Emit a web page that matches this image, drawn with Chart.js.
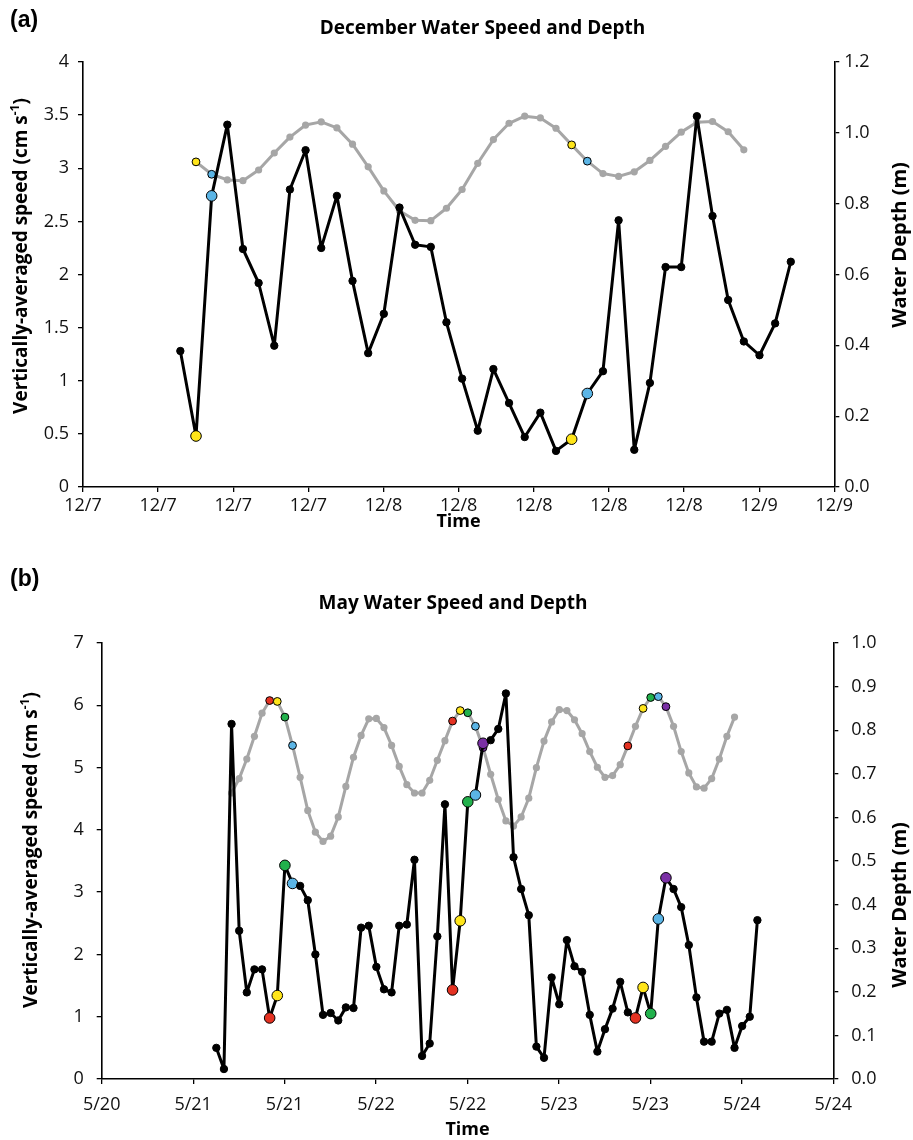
<!DOCTYPE html>
<html><head><meta charset="utf-8">
<script src="https://cdn.jsdelivr.net/npm/chart.js@4.4.0/dist/chart.umd.min.js"></script>
<style>
html,body{margin:0;padding:0;background:#fff;}
#wrap{position:relative;width:913px;height:1140px;background:#fff;}
#ca{position:absolute;left:0;top:0;width:913px;height:560px;}
#cb{position:absolute;left:0;top:560px;width:913px;height:580px;}
</style></head><body>
<div id="wrap"><canvas id="ca" width="913" height="560"></canvas><canvas id="cb" width="913" height="580"></canvas></div>
<script>
// ---------- December (panel a) ----------
const decHours = [0,1,2,3,4,5,6,7,8,9,10,11,12,13,14,15,16,17,18,19,20,21,22,23,24,25,26,27,28,29,30,31,32,33,34,35,36,37,38,39];
const decSpeed = [1.28,0.48,2.74,3.41,2.24,1.92,1.33,2.80,3.17,2.25,2.74,1.94,1.26,1.63,2.63,2.28,2.26,1.55,1.02,0.53,1.11,0.79,0.47,0.70,0.34,0.45,0.88,1.09,2.51,0.35,0.98,2.07,2.07,3.49,2.55,1.76,1.37,1.24,1.54,2.12];
const decDepth = [null,0.918,0.883,0.867,0.865,0.895,0.943,0.988,1.022,1.031,1.014,0.968,0.904,0.836,0.780,0.753,0.752,0.787,0.840,0.914,0.981,1.027,1.047,1.042,1.013,0.966,0.920,0.885,0.877,0.890,0.922,0.962,1.002,1.030,1.032,1.003,0.952,null,null,null];
const decTickLabels = ['12/7','12/7','12/7','12/7','12/8','12/8','12/8','12/8','12/8','12/9','12/9'];
const decYellowIdx = [1,25];
const decBlueIdx = [2,26];

// ---------- May (panel b) ----------
const mayHours = [0,1,2,3,4,5,6,7,8,9,10,11,12,13,14,15,16,17,18,19,20,21,22,23,24,25,26,27,28,29,30,31,32,33,34,35,36,37,38,39,40,41,42,43,44,45,46,47,48,49,50,51,52,53,54,55,56,57,58,59,60,61,62,63,64,65,66,67,68,69,70,71];
const maySpeed = [0.50,0.16,5.70,2.38,1.39,1.76,1.76,0.98,1.34,3.43,3.14,3.10,2.87,2.00,1.03,1.06,0.94,1.15,1.14,2.43,2.46,1.80,1.44,1.39,2.46,2.48,3.52,0.37,0.57,2.29,4.41,1.43,2.54,4.45,4.56,5.39,5.44,5.62,6.19,3.56,3.05,2.63,0.52,0.34,1.63,1.20,2.23,1.81,1.72,1.03,0.44,0.80,1.13,1.56,1.07,0.98,1.47,1.05,2.57,3.23,3.05,2.76,2.15,1.31,0.60,0.60,1.05,1.11,0.50,0.85,1.00,2.55];
const mayDepth = [null,null,0.656,0.689,0.734,0.786,0.839,0.868,0.866,0.830,0.765,0.692,0.616,0.566,0.545,0.557,0.601,0.671,0.738,0.788,0.826,0.827,0.806,0.765,0.717,0.675,0.656,0.656,0.685,0.731,0.776,0.821,0.845,0.840,0.809,0.760,0.699,0.641,0.592,0.580,0.601,0.644,0.714,0.775,0.819,0.847,0.845,0.824,0.792,0.751,0.715,0.692,0.696,0.721,0.764,0.809,0.850,0.875,0.877,0.854,0.809,0.751,0.702,0.670,0.667,0.689,0.734,0.786,0.830,null,null,null];
const mayTickLabels = ['5/20','5/21','5/21','5/22','5/22','5/23','5/23','5/24','5/24'];
const maySpeedRedIdx = [7,31,55], maySpeedYellowIdx = [8,32,56], maySpeedGreenIdx = [9,33,57], maySpeedBlueIdx = [10,34,58], maySpeedPurpleIdx = [35,59];
const mayDepthRedIdx = [7,31,54], mayDepthYellowIdx = [8,32,56], mayDepthGreenIdx = [9,33,57], mayDepthBlueIdx = [10,34,58], mayDepthPurpleIdx = [35,59];

// ---------- styling ----------
const COL = {yellow:'#FFE51A', blue:'#5BB5E6', red:'#E43222', green:'#22B14C', purple:'#7A2FA5'};
const GREY = '#A6A6A6';
const FONT = '"Open Sans", sans-serif';

function drawRot(ctx, parts, cx, cy, size) {
  ctx.save();
  ctx.translate(cx, cy); ctx.rotate(-Math.PI/2);
  const base = 'bold ' + size + 'px ' + FONT;
  const sup = 'bold ' + Math.round(size*0.62) + 'px ' + FONT;
  let w = 0;
  parts.forEach(p => { ctx.font = p.sup ? sup : base; p.w = ctx.measureText(p.t).width; w += p.w; });
  let x = -w/2;
  ctx.textAlign = 'left'; ctx.textBaseline = 'middle'; ctx.fillStyle = '#000';
  parts.forEach(p => { ctx.font = p.sup ? sup : base; ctx.fillText(p.t, x, p.sup ? -size*0.33 : 0); x += p.w; });
  ctx.restore();
}

const panelText = {
  id: 'panelText',
  afterDraw(chart, args, o) {
    const ctx = chart.ctx;
    ctx.save();
    ctx.fillStyle = '#000';
    ctx.textBaseline = 'middle';
    ctx.textAlign = 'left';
    ctx.font = 'bold 23px "Liberation Sans", Arial, sans-serif';
    ctx.fillText(o.letter, o.letterX, o.letterY);
    ctx.textAlign = 'center';
    ctx.font = 'bold ' + o.titleSize + 'px ' + FONT;
    ctx.fillText(o.title, o.titleX, o.titleY);
    ctx.font = 'bold 18px ' + FONT;
    ctx.fillText(o.xTitle, o.xTitleX, o.xTitleY);
    ctx.restore();
    drawRot(ctx, [{t:'Vertically-averaged speed (cm s'},{t:'-1',sup:true},{t:')'}], o.yTitleX, o.yTitleY, 19);
    drawRot(ctx, [{t:'Water Depth (m)'}], o.y2TitleX, o.y2TitleY, 20);
  }
};

function buildChart(id, c) {
  const speedPts = c.hours.map((h,i)=>({x:h, y:c.speed[i]}));
  const depthPts = c.hours.map((h,i)=>({x:h, y:c.depth[i]}));
  const sBg = c.speed.map(()=>'#000'), sR = c.speed.map(()=>3.7);
  Object.keys(c.speedMarks).forEach(k => c.speedMarks[k].forEach(i => { sBg[i] = COL[k]; sR[i] = 5.3; }));
  const dBg = c.depth.map(()=>GREY), dBd = c.depth.map(()=>GREY), dBw = c.depth.map(()=>0), dR = c.depth.map(()=>3.6);
  Object.keys(c.depthMarks).forEach(k => c.depthMarks[k].forEach(i => { dBg[i] = COL[k]; dBd[i] = '#000'; dBw[i] = 1; dR[i] = 3.9; }));
  const tickVals = c.tickLabels.map((_,k)=> c.xMin + k*c.xStep);
  const axisCommon = {
    grid: {display:true, drawOnChartArea:false, drawTicks:true, tickLength:5, color:'#000', lineWidth:1.3},
    border: {display:true, color:'#000', width:1.6}
  };
  return new Chart(document.getElementById(id), {
    type: 'line',
    data: { datasets: [
      { label:'Speed', data: speedPts, yAxisID:'y', order:0, borderColor:'#000', borderWidth:3, tension:0,
        borderJoinStyle:'round', borderCapStyle:'round',
        pointRadius:sR, pointBackgroundColor:sBg, pointBorderColor:'#000', pointBorderWidth:1, spanGaps:false },
      { label:'Depth', data: depthPts, yAxisID:'y2', order:1, borderColor:GREY, borderWidth:3, tension:0,
        borderJoinStyle:'round', borderCapStyle:'round',
        pointRadius:dR, pointBackgroundColor:dBg, pointBorderColor:dBd, pointBorderWidth:dBw, spanGaps:false }
    ]},
    options: {
      responsive:false, animation:false, devicePixelRatio:1,
      layout: { padding: {top:c.padTop, left:0, right:0, bottom:0} },
      plugins: { legend:{display:false}, tooltip:{enabled:false}, panelText: c.text },
      scales: {
        x: Object.assign({}, axisCommon, {
          type:'linear', min:c.xMin, max:c.xMax,
          afterBuildTicks: s => { s.ticks = tickVals.map(v=>({value:v})); },
          afterFit: s => { s.height = c.xH; },
          ticks: { autoSkip:false, maxRotation:0, padding:c.xPad, color:'#111', font:{family:FONT, size:18},
                   callback: (v, i) => c.tickLabels[i] }
        }),
        y: Object.assign({}, axisCommon, {
          position:'left', min:0, max:c.yMax,
          afterFit: s => { s.width = c.yW; },
          ticks: { stepSize:c.yStep, padding:c.yPad, color:'#111', font:{family:FONT, size:18},
                   callback: v => String(Math.round(v*100)/100) }
        }),
        y2: Object.assign({}, axisCommon, {
          position:'right', min:0, max:c.y2Max,
          afterFit: s => { s.width = c.y2W; },
          ticks: { stepSize:c.y2Step, padding:c.y2Pad, color:'#111', font:{family:FONT, size:18},
                   callback: v => Number(v).toFixed(1) }
        })
      }
    },
    plugins: [panelText]
  });
}

buildChart('ca', {
  hours: decHours, speed: decSpeed, depth: decDepth, tickLabels: decTickLabels,
  speedMarks: {yellow: decYellowIdx, blue: decBlueIdx},
  depthMarks: {yellow: decYellowIdx, blue: decBlueIdx},
  xMin: -6.22, xMax: 41.78, xStep: 4.8,
  yMax: 4, yStep: 0.5, y2Max: 1.2, y2Step: 0.2,
  padTop: 62, xH: 73, yW: 83, y2W: 78.7, xPad: 3, yPad: 9, y2Pad: 5,
  text: { letter:'(a)', letterX:10, letterY:21, title:'December Water Speed and Depth', titleSize:19, titleX:482.5, titleY:29,
          xTitle:'Time', xTitleX:458.5, xTitleY:522, yTitleX:22, yTitleY:256, y2TitleX:900, y2TitleY:245 }
});

buildChart('cb', {
  hours: mayHours, speed: maySpeed, depth: mayDepth, tickLabels: mayTickLabels,
  speedMarks: {red: maySpeedRedIdx, yellow: maySpeedYellowIdx, green: maySpeedGreenIdx, blue: maySpeedBlueIdx, purple: maySpeedPurpleIdx},
  depthMarks: {red: mayDepthRedIdx, yellow: mayDepthYellowIdx, green: mayDepthGreenIdx, blue: mayDepthBlueIdx, purple: mayDepthPurpleIdx},
  xMin: -15.04, xMax: 80.96, xStep: 12,
  yMax: 7, yStep: 1, y2Max: 1.0, y2Step: 0.1,
  padTop: 83, xH: 61, yW: 101.7, y2W: 79.7, xPad: 10, yPad: 13, y2Pad: 13,
  text: { letter:'(b)', letterX:10, letterY:20, title:'May Water Speed and Depth', titleSize:19, titleX:453, titleY:44,
          xTitle:'Time', xTitleX:467.5, xTitleY:570, yTitleX:32, yTitleY:290, y2TitleX:900, y2TitleY:345 }
});
</script>
</body></html>
